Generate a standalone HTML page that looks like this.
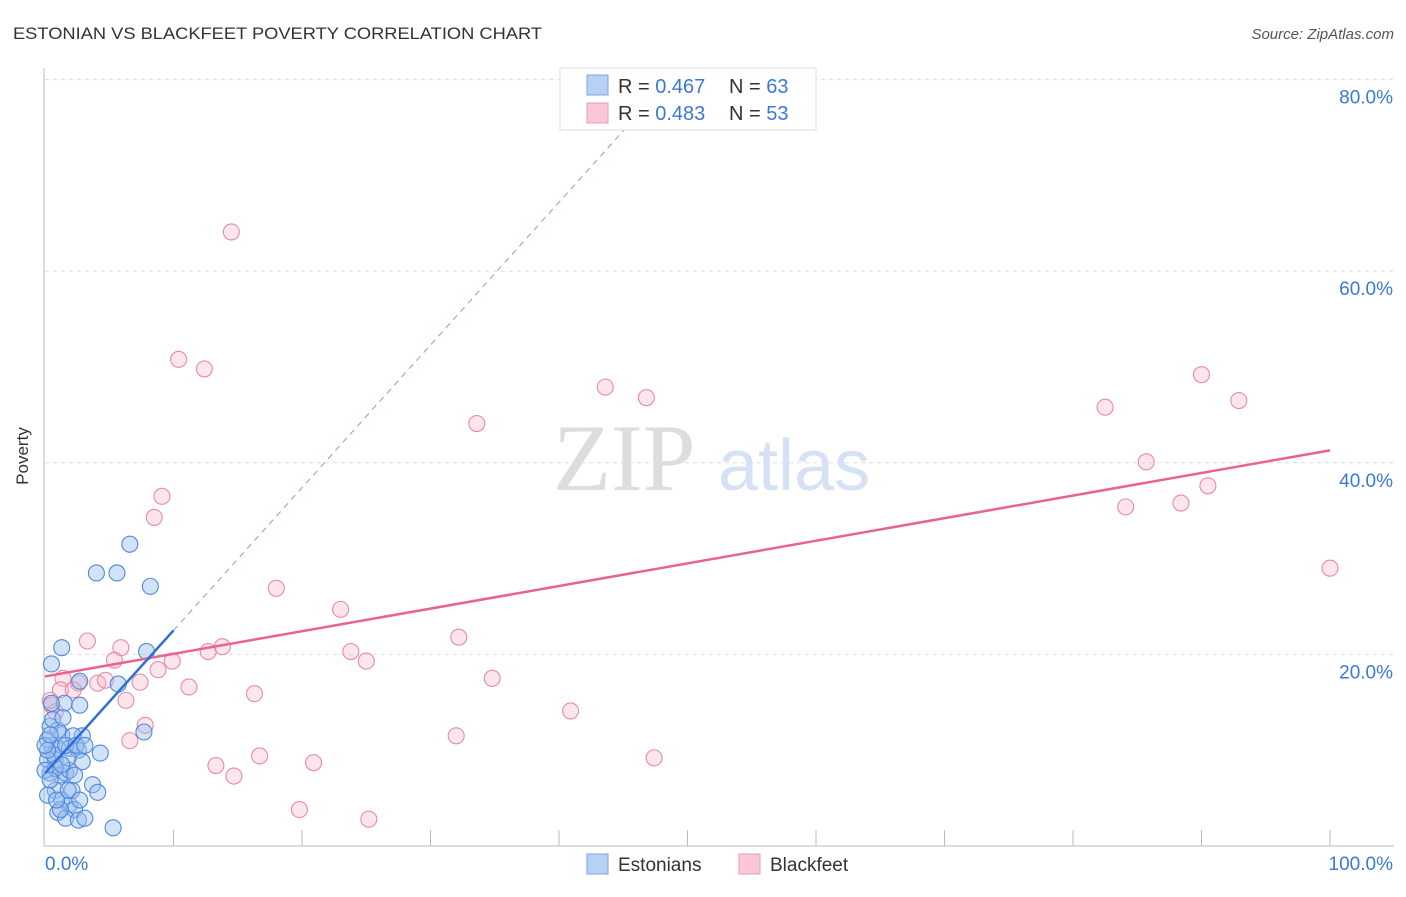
<!DOCTYPE html>
<html><head><meta charset="utf-8"><style>
body{margin:0;background:#fff;font-family:"Liberation Sans",sans-serif;}
</style></head><body>
<svg id="chart" width="1406" height="892" xmlns="http://www.w3.org/2000/svg" font-family="Liberation Sans, sans-serif">
<text x="13" y="39" font-size="17" fill="#333" textLength="529" lengthAdjust="spacingAndGlyphs">ESTONIAN VS BLACKFEET POVERTY CORRELATION CHART</text>
<text x="1394" y="39" font-size="15" fill="#555" font-style="italic" text-anchor="end">Source: ZipAtlas.com</text>
<text x="28" y="456" font-size="17" fill="#333" transform="rotate(-90 28 456)" text-anchor="middle">Poverty</text>
<g id="grid"></g>
<text x="553" y="490" font-size="95" fill="#ddd" style="font-family:'Liberation Serif',serif">ZIP</text>
<text x="718" y="490" font-size="72" fill="#d5e2f5">atlas</text>
<g id="pts"></g>
<g id="lines"></g>
<g>
<rect x="560" y="68" width="256" height="62" fill="#fff" fill-opacity="0.9" stroke="#ddd"/>
<rect x="587" y="75" width="21" height="20" fill="#b7d0f3" stroke="#7ea6e0"/>
<rect x="587" y="103" width="21" height="20" fill="#f9c7d5" stroke="#eb9ab3"/>
<text x="618" y="93" font-size="20" fill="#333">R = <tspan fill="#3b78d8">0.467</tspan></text>
<text x="729" y="93" font-size="20" fill="#333">N = <tspan fill="#3b78d8">63</tspan></text>
<text x="618" y="120" font-size="20" fill="#333">R = <tspan fill="#3b78d8">0.483</tspan></text>
<text x="729" y="120" font-size="20" fill="#333">N = <tspan fill="#3b78d8">53</tspan></text>
</g>
<g>
<rect x="587" y="854" width="21" height="20" fill="#b7d0f3" stroke="#7ea6e0"/>
<text x="618" y="871" font-size="19" fill="#333">Estonians</text>
<rect x="739" y="854" width="21" height="20" fill="#f9c7d5" stroke="#eb9ab3"/>
<text x="770" y="871" font-size="19" fill="#333">Blackfeet</text>
</g>
</svg>
<script>
const yTicks=[20,40,60,80];
const xTickLabels=["0.0%","100.0%"];
const blueX=[6.6,4.0,5.6,8.2,1.3,0.5,7.9,5.7,2.7,1.5,2.7,0.5,0.4,1.3,2.9,2.2,7.7,4.3,0.5,1.0,1.9,2.6,0.8,0.2,1.2,0.4,1.6,2.9,1.9,3.7,4.1,0.8,1.3,1.9,1.0,2.3,1.6,2.6,3.1,5.3,0.2,0.8,1.8,0.0,0.4,2.1,1.0,1.6,2.4,0.7,1.3,2.3,0.2,0.6,1.8,1.2,2.7,0.2,0.9,0,0.4,3.1,1.4];
const blueY=[31.5,28.5,28.5,27.1,20.7,19.0,20.3,16.9,17.2,14.9,14.7,14.9,12.5,11.6,11.5,11.5,11.9,9.7,10.5,10.2,10.2,10.0,9.0,9.0,7.4,7.6,7.6,8.8,7.9,6.4,5.6,5.8,4.8,4.3,3.5,3.8,2.9,2.7,2.9,1.9,11.1,8.1,9.2,7.9,6.9,5.8,12.1,10.5,10.5,9.5,8.5,7.4,10.0,13.2,5.8,3.8,4.8,5.3,4.8,10.5,11.6,10.5,13.4];
const pinkX=[14.5,10.4,12.4,43.6,46.8,33.6,82.5,90.0,92.9,85.7,84.1,88.4,90.5,100,9.1,8.5,18.0,23.0,32.2,23.8,25.0,13.8,12.7,9.9,8.8,5.9,5.4,3.3,7.4,11.2,16.3,34.8,40.9,4.1,2.6,1.4,1.2,2.2,4.7,6.3,7.8,6.6,0.5,0.8,0.4,13.3,14.7,16.7,20.9,32.0,47.4,19.8,25.2];
const pinkY=[64.1,50.8,49.8,47.9,46.8,44.1,45.8,49.2,46.5,40.1,35.4,35.8,37.6,29.0,36.5,34.3,26.9,24.7,21.8,20.3,19.3,20.8,20.3,19.3,18.4,20.7,19.4,21.4,17.1,16.6,15.9,17.5,14.1,17.0,17.0,17.5,16.3,16.3,17.3,15.2,12.6,11.0,14.7,14.0,15.2,8.4,7.3,9.4,8.7,11.5,9.2,3.8,2.8];
const blueTrend=[7.6,1.49];
const pinkTrend=[17.7,0.236];
const X=v=>45+v*12.85, Y=v=>846-v*9.58;
const NS="http://www.w3.org/2000/svg";
function mk(t,a,p){const e=document.createElementNS(NS,t);for(const k in a)e.setAttribute(k,a[k]);p.appendChild(e);return e;}
const g=document.getElementById('grid');
yTicks.forEach(t=>{
 const l=mk('line',{x1:45,x2:1394,y1:Y(t),y2:Y(t),stroke:'#ddd','stroke-dasharray':'4 4'},g);
 
 
 const tx=mk('text',{x:1393,y:Y(t)+24,'font-size':19,fill:'#3b78d8','text-anchor':'end'},g);
 tx.textContent=t.toFixed(1)+'%';
 
 
});
const ax=mk('line',{x1:44,x2:44,y1:68,y2:846,stroke:'#bbb'},g);


const bx=mk('line',{x1:44,x2:1394,y1:846,y2:846,stroke:'#bbb'},g);


for(let i=1;i<=10;i++){const t=mk('line',{x1:X(i*10),x2:X(i*10),y1:830,y2:846,stroke:'#bbb'},g);
 
 }
const xl0=mk('text',{x:45,y:870,'font-size':19,fill:'#3b78d8'},g);xl0.textContent=xTickLabels[0];


const xl1=mk('text',{x:1393,y:870,'font-size':19,fill:'#3b78d8','text-anchor':'end'},g);xl1.textContent=xTickLabels[1];


const p=document.getElementById('pts');
pinkX.forEach((x,i)=>{const c=mk('circle',{cx:X(x),cy:Y(pinkY[i]),r:8,fill:'#f7b6c9','fill-opacity':0.35,stroke:'#e88aa7','stroke-width':1.1},p);
 
 });
blueX.forEach((x,i)=>{const c=mk('circle',{cx:X(x),cy:Y(blueY[i]),r:8,fill:'#9bbfee','fill-opacity':0.45,stroke:'#4f88dc','stroke-width':1.1},p);
 
 });
const L=document.getElementById('lines');
const pl=mk('line',{x1:X(0),y1:Y(pinkTrend[0]),x2:X(100),y2:Y(pinkTrend[0]+pinkTrend[1]*100),stroke:'#e8638f','stroke-width':2.5},L);


const xe=(80-blueTrend[0])/blueTrend[1];
const bd=mk('line',{x1:X(10),y1:Y(blueTrend[0]+blueTrend[1]*10),x2:X(xe),y2:Y(80),stroke:'#7aa3e0','stroke-width':1,'stroke-dasharray':'6 5'},L);


const bl=mk('line',{x1:X(0),y1:Y(blueTrend[0]),x2:X(10),y2:Y(blueTrend[0]+blueTrend[1]*10),stroke:'#2f6fd6','stroke-width':2.5},L);


</script>
</body></html>
